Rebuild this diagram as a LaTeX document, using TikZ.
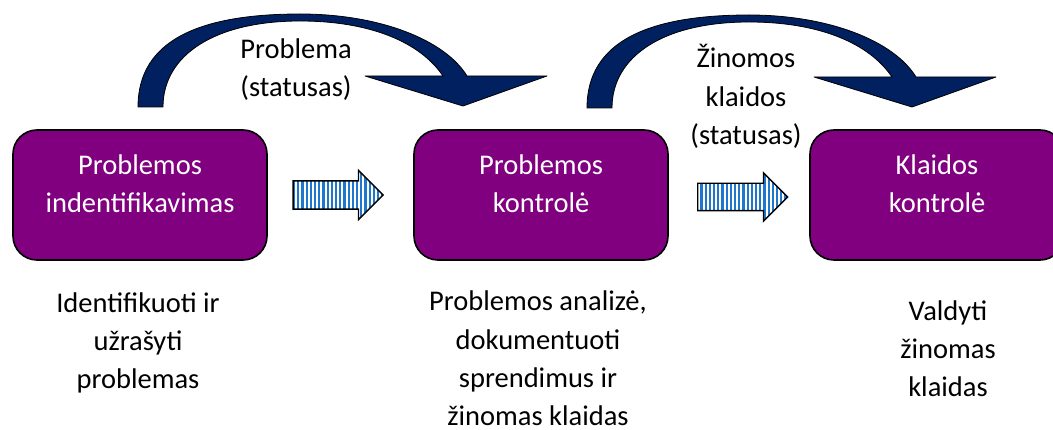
\documentclass[tikz,border=0pt]{standalone}
\usepackage{fontspec}
\setmainfont{Carlito}
\usetikzlibrary{shapes.arrows,patterns.meta}
\definecolor{procpurple}{RGB}{128,0,128}
\definecolor{arcnavy}{RGB}{0,32,96}
\definecolor{stripeblue}{RGB}{30,118,205}
\tikzset{
  procbox/.style={draw=black, line width=1.6pt, fill=procpurple, rounded corners=24pt,
    minimum width=254pt, minimum height=130pt, inner sep=0pt},
  boxtext/.style={text=white, align=center, anchor=base, inner sep=0pt,
    font=\fontsize{28.5}{38}\selectfont},
  notetext/.style={align=center, anchor=base, inner sep=0pt,
    font=\fontsize{28.5}{38.5}\selectfont},
  flowarrow/.style={single arrow, draw=black, line width=1.4pt, preaction={fill=white},
    pattern={Lines[angle=90,distance=4.2pt,line width=2.2pt]}, pattern color=stripeblue,
    minimum height=90pt, inner xsep=0pt, inner ysep=13pt, single arrow head extend=10.5pt,
    anchor=tail},
  arcarrow/.style={fill=arcnavy, draw=black, line width=0.8pt, line join=round},
}
\begin{document}
\begin{tikzpicture}[x=1pt,y=-1pt]
\useasboundingbox (0,0) rectangle (1053,430);
% curved status arrows
\foreach \sx/\sy in {0/0,449/1}{
  \draw[arcarrow, shift={(\sx,\sy)}] (138,107) .. controls (138,40) and (200,14) .. (300,14)
    .. controls (380,14) and (445,40) .. (467,76) -- (547,76) -- (463,106) -- (365,76) -- (443,76)
    .. controls (420,42) and (370,21) .. (300,21) .. controls (215,21) and (163,55) .. (163,107) -- cycle;
}
% multi-line texts sit on the baseline of their last line
\node[notetext] (statlbl) at (296,97) {Problema\\(statusas)};
\node[notetext] (errlbl) at (746,145) {Žinomos\\klaidos\\(statusas)};
% process boxes
\node[procbox] (procident) at (140,195) {};
\node[procbox] (procctrl) at (541,195) {};
\node[procbox] (errctrl) at (937,195) {};
\node[boxtext] (identtxt) at ([yshift=-18pt]procident.center) {Problemos\\indentifikavimas};
\node[boxtext] (ctrltxt) at ([yshift=-18pt]procctrl.center) {Problemos\\kontrolė};
\node[boxtext] (errtxt) at ([yshift=-18pt]errctrl.center) {Klaidos\\kontrolė};
% striped flow arrows
\node[flowarrow] (flowa) at (292,195) {};
\node[flowarrow] (flowb) at (697,197) {};
% notes
\node[notetext] (identnote) at (138,389) {Identifikuoti ir\\užrašyti\\problemas};
\node[notetext] (ctrlnote) at (538,426) {Problemos analizė,\\dokumentuoti\\sprendimus ir\\žinomas klaidas};
\node[notetext] (errnote) at (948,397) {Valdyti\\žinomas\\klaidas};
\end{tikzpicture}
\end{document}
